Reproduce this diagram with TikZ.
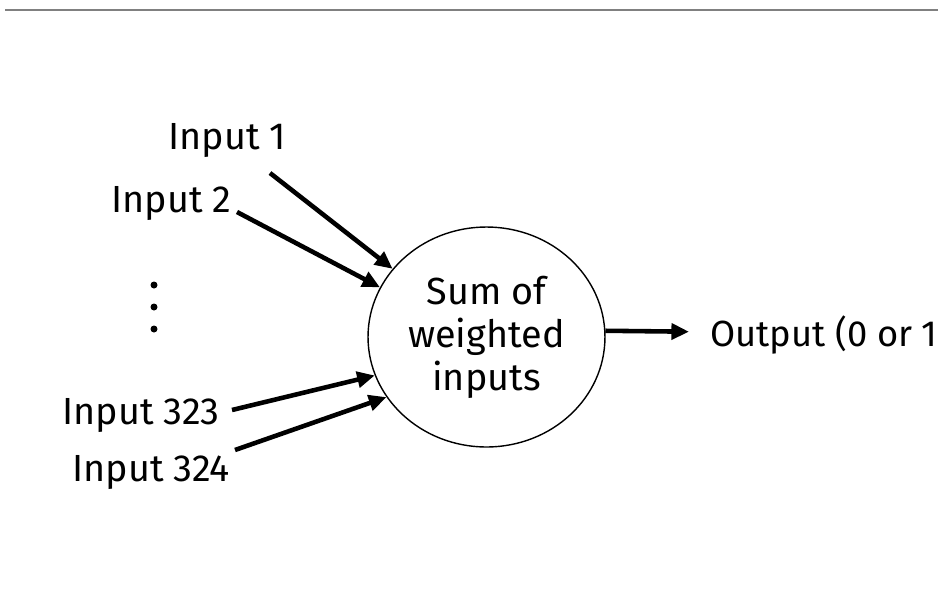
\documentclass[tikz,border=0pt]{standalone}
\usepackage{fontspec}
\setmainfont{Fira Sans}
\usepackage{tikz}
\usetikzlibrary{shapes.geometric,arrows.meta}
\tikzstyle{arrow} = [line width=2.6pt,-{Triangle[length=10pt,width=9pt]}]
\tikzstyle{label} = [anchor=base west,inner sep=0pt,font=\fontsize{21.5}{24.5}\selectfont]

\begin{document}
\begin{tikzpicture}[x=0.02cm,y=-0.02cm]

        \useasboundingbox (0,0) rectangle (938,593);

        % Grey rule along the top
        \draw[line width=0.85pt,gray] (5,10) -- (938,10);

        % Summing unit
        \node[ellipse,draw,line width=0.8pt,inner sep=0pt,minimum width=4.74cm,minimum height=4.4cm,
              align=center,font=\fontsize{21.5}{24.5}\selectfont] (sum) at (486.5,337)
              {Sum of\\weighted\\inputs};

        % Input labels
        \node[label] (in1) at (168,149) {Input 1};
        \node[label] (in2) at (111,212) {Input 2};
        \node[label] (in323) at (62,424) {Input 323};
        \node[label] (in324) at (72,481) {Input 324};

        % Dots for the inputs left out
        \foreach \y in {285,307,329}
            \fill (154,\y) circle [radius=3.5];

        % Tails of the input arrows
        \coordinate (t1) at (270,173);
        \coordinate (t2) at (237,212);
        \coordinate (t323) at (232,410);
        \coordinate (t324) at (235,450);

        % Inputs into the summing unit
        \draw[arrow] (t1) -- (sum.144);			% Input 1
        \draw[arrow] (t2) -- (sum.155);			% Input 2
        \draw[arrow] (t323) -- (sum.199);		% Input 323
        \draw[arrow] (t324) -- (sum.211);		% Input 324

        % Output (runs off the right edge, as in the original)
        \coordinate (otip) at (689,331.7);
        \draw[arrow] (sum.3) -- (otip);
        \node[label,font=\fontsize{20.7}{24.5}\selectfont] (out) at (710,346) {Output (0 or 1)};

\end{tikzpicture}
\end{document}
